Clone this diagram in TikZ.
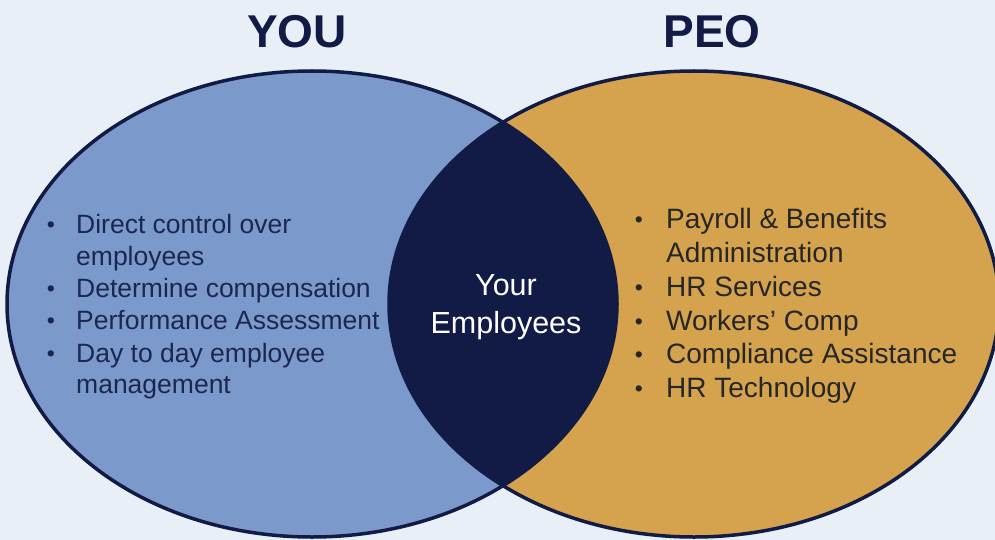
\documentclass[tikz,border=0pt]{standalone}
\usepackage{fontspec}
\setmainfont{Liberation Sans}
\definecolor{bgcol}{HTML}{E8EFF6}
\definecolor{youfill}{HTML}{7B9ACB}
\definecolor{peofill}{HTML}{D5A34D}
\definecolor{navy}{HTML}{111B46}
\definecolor{youtext}{HTML}{1B2750}
\definecolor{peotext}{HTML}{262626}
\begin{document}
\begin{tikzpicture}[x=1pt,y=-1pt,
  title/.style={anchor=base,font=\fontsize{46}{46}\selectfont\bfseries,text=navy,inner sep=0},
  youitem/.style={anchor=base west,font=\fontsize{26.5}{26.5}\selectfont,text=youtext,inner sep=0},
  peoitem/.style={anchor=base west,font=\fontsize{28}{28}\selectfont,text=peotext,inner sep=0},
  youdot/.style={anchor=base,font=\fontsize{23}{23}\selectfont,text=youtext,inner sep=0},
  peodot/.style={anchor=base,font=\fontsize{23}{23}\selectfont,text=peotext,inner sep=0},
  centre/.style={anchor=base,font=\fontsize{30.5}{30.5}\selectfont,text=white,inner sep=0}]
\useasboundingbox (0,0) rectangle (995,540);
\fill[bgcol] (0,0) rectangle (995,540);
\begin{scope}
\clip (0,0) rectangle (995,540);
% the two circles of the diagram
\fill[youfill] (312,304) ellipse [x radius=305, y radius=233];
\fill[peofill] (694,304) ellipse [x radius=305, y radius=233];
% overlap
\begin{scope}
\clip (312,304) ellipse [x radius=305, y radius=233];
\fill[navy] (694,304) ellipse [x radius=305, y radius=233];
\end{scope}
\draw[navy,line width=3.5pt] (312,304) ellipse [x radius=305, y radius=233];
\draw[navy,line width=3.5pt] (694,304) ellipse [x radius=305, y radius=233];
\end{scope}

% headings
\node[title] (you) at (297,48) {YOU};
\node[title] (peo) at (712,48) {PEO};

% left list
\node[youdot] (yd1) at (51,232) {•};
\node[youitem] (y1) at (76,233) {Direct control over};
\node[youitem] (y1b) at (76,265) {employees};
\node[youdot] (yd2) at (51,296) {•};
\node[youitem] (y2) at (76,297) {Determine compensation};
\node[youdot] (yd3) at (51,328) {•};
\node[youitem] (y3) at (76,329) {Performance Assessment};
\node[youdot] (yd4) at (51,361) {•};
\node[youitem] (y4) at (76,362) {Day to day employee};
\node[youitem] (y4b) at (76,393) {management};

% overlap label
\node[centre] (c1) at (506,295) {Your};
\node[centre] (c2) at (506,333) {Employees};

% right list
\node[peodot] (pd1) at (639,227) {•};
\node[peoitem] (p1) at (666,228) {Payroll \& Benefits};
\node[peoitem] (p1b) at (666,262) {Administration};
\node[peodot] (pd2) at (639,295) {•};
\node[peoitem] (p2) at (666,296) {HR Services};
\node[peodot] (pd3) at (639,329) {•};
\node[peoitem] (p3) at (666,330) {Workers’ Comp};
\node[peodot] (pd4) at (639,362) {•};
\node[peoitem] (p4) at (666,363) {Compliance Assistance};
\node[peodot] (pd5) at (639,396) {•};
\node[peoitem] (p5) at (666,397) {HR Technology};
\end{tikzpicture}
\end{document}
